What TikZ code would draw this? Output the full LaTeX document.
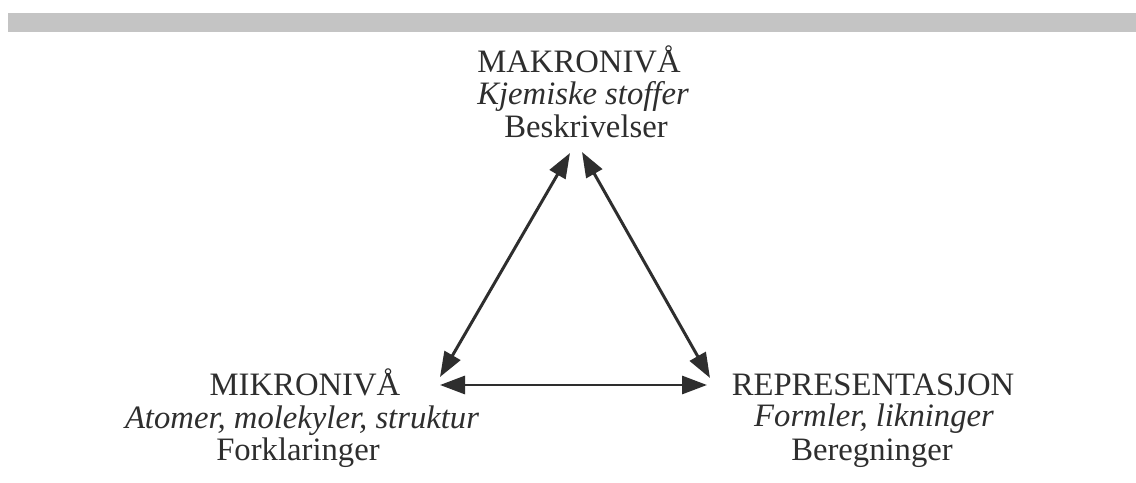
\documentclass[tikz,border=0pt]{standalone}
\usepackage{fontspec}
\setmainfont{Liberation Serif}
\usetikzlibrary{arrows.meta}
\definecolor{ink}{HTML}{2E2E2E}
\definecolor{band}{HTML}{C4C4C4}
\tikzset{
  lbl/.style={anchor=base, inner sep=0pt, text=ink, font=\fontsize{18.6pt}{22pt}\selectfont},
  link/.style={draw=ink, line width=1.7pt, {Triangle[length=0.5cm,width=0.36cm]}-{Triangle[length=0.5cm,width=0.36cm]}}
}
\begin{document}
\begin{tikzpicture}[x=0.02cm, y=-0.02cm]
  \useasboundingbox (0,0) rectangle (1136,483);
  \fill[white] (0,0) rectangle (1136,483);
  % grey strip along the top edge
  \fill[band] (8,13) rectangle (1136,32);

  % top vertex
  \node[lbl] (mak1) at (579,73)  {MAKRONIVÅ};
  \node[lbl] (mak2) at (583,105) {\itshape Kjemiske stoffer};
  \node[lbl] (mak3) at (586,137) {Beskrivelser};

  % lower left vertex
  \node[lbl] (mik1) at (305,395) {MIKRONIVÅ};
  \node[lbl] (mik2) at (302,428) {\itshape Atomer, molekyler, struktur};
  \node[lbl] (mik3) at (298,460) {Forklaringer};

  % lower right vertex
  \node[lbl] (rep1) at (873,395) {REPRESENTASJON};
  \node[lbl] (rep2) at (874,426) {\itshape Formler, likninger};
  \node[lbl] (rep3) at (872,460) {Beregninger};

  % arrow end points around the triangle
  \coordinate (makL) at (570,153);
  \coordinate (makR) at (582,152);
  \coordinate (mikU) at (440,377);
  \coordinate (mikR) at (440,385);
  \coordinate (repU) at (710,378);
  \coordinate (repL) at (707,385);

  \draw[link] (mikU) -- (makL);
  \draw[link] (makR) -- (repU);
  \draw[link] (mikR) -- (repL);
\end{tikzpicture}
\end{document}
